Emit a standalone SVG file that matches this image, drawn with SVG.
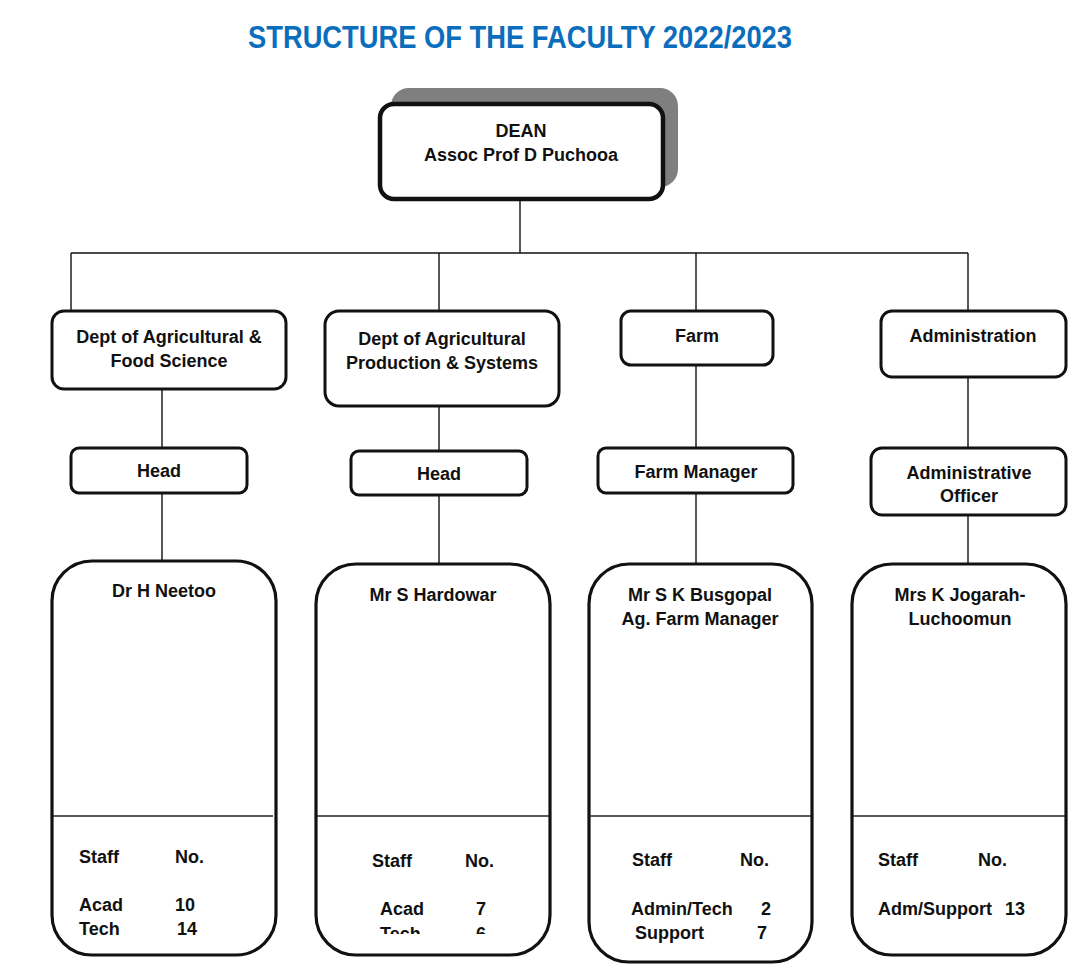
<svg xmlns="http://www.w3.org/2000/svg" width="1075" height="974" viewBox="0 0 1075 974">
<defs>
<style>
.t{font-family:"Liberation Sans",Arial,sans-serif;font-weight:bold;font-size:18px;fill:#111;}
.c{text-anchor:middle;}
.box{fill:#fff;stroke:#111;stroke-width:3;}
.big{fill:#fff;stroke:#111;stroke-width:3.2;}
.ln{stroke:#111;stroke-width:1.4;fill:none;}
.div{stroke:#222;stroke-width:1.5;}
</style>
<clipPath id="clipB"><rect x="316" y="560" width="236" height="374"/></clipPath>
</defs>
<rect width="1075" height="974" fill="#fff"/>
<text x="520" y="48" text-anchor="middle" font-family="'Liberation Sans',Arial,sans-serif" font-weight="bold" font-size="31" fill="#0b6ebc" textLength="544" lengthAdjust="spacingAndGlyphs">STRUCTURE OF THE FACULTY 2022/2023</text>

<g id="connectors">
<path class="ln" d="M520 199V253M71 253H968M71 253V311M439 253V311M696 253V311M968 253V311"/>
<path class="ln" d="M162 389V448M439 406V451M696 365V448M968 377V448"/>
<path class="ln" d="M162 493V561M439 495V564M696 493V564M968 515V564"/>
</g>

<g id="dean">
<rect x="391" y="88" width="287" height="99" rx="18" fill="#7f7f7f"/>
<rect x="380" y="104" width="283" height="95" rx="14" fill="#fff" stroke="#111" stroke-width="4.5"/>
<text class="t c" x="521" y="137">DEAN</text>
<text class="t c" x="521" y="161">Assoc Prof D Puchooa</text>
</g>

<g id="dept-afs">
<rect class="box" x="52" y="311" width="234" height="78" rx="12"/>
<text class="t c" x="169" y="343">Dept of Agricultural &amp;</text>
<text class="t c" x="169" y="367">Food Science</text>
</g>
<g id="dept-aps">
<rect class="box" x="325" y="311" width="234" height="95" rx="14"/>
<text class="t c" x="442" y="345">Dept of Agricultural</text>
<text class="t c" x="442" y="369">Production &amp; Systems</text>
</g>
<g id="farm">
<rect class="box" x="621" y="311" width="152" height="54" rx="10"/>
<text class="t c" x="697" y="342">Farm</text>
</g>
<g id="administration">
<rect class="box" x="881" y="311" width="185" height="66" rx="11"/>
<text class="t c" x="973" y="342">Administration</text>
</g>

<g id="head-afs">
<rect class="box" x="71" y="448" width="176" height="45" rx="8"/>
<text class="t c" x="159" y="477">Head</text>
</g>
<g id="head-aps">
<rect class="box" x="351" y="451" width="176" height="44" rx="8"/>
<text class="t c" x="439" y="480">Head</text>
</g>
<g id="farm-manager">
<rect class="box" x="598" y="448" width="195" height="45" rx="8"/>
<text class="t c" x="696" y="478">Farm Manager</text>
</g>
<g id="admin-officer">
<rect class="box" x="871" y="448" width="195" height="67" rx="11"/>
<text class="t c" x="969" y="479">Administrative</text>
<text class="t c" x="969" y="502">Officer</text>
</g>

<g id="staff-afs">
<rect class="big" x="52" y="561" width="224" height="394" rx="40"/>
<line class="div" x1="53" y1="816" x2="273" y2="816"/>
<text class="t c" x="164" y="597">Dr H Neetoo</text>
<text class="t" x="79" y="863">Staff</text>
<text class="t" x="175" y="863">No.</text>
<text class="t" x="79" y="911">Acad</text>
<text class="t" x="175" y="911">10</text>
<text class="t" x="79" y="935">Tech</text>
<text class="t" x="177" y="935">14</text>
</g>
<g id="staff-aps">
<rect class="big" x="316" y="564" width="234" height="391" rx="40"/>
<line class="div" x1="317" y1="816" x2="549" y2="816"/>
<text class="t c" x="433" y="601">Mr S Hardowar</text>
<text class="t" x="372" y="867">Staff</text>
<text class="t" x="465" y="867">No.</text>
<text class="t" x="380" y="915">Acad</text>
<text class="t" x="476" y="915">7</text>
<g clip-path="url(#clipB)">
<text class="t" x="380" y="940">Tech</text>
<text class="t" x="476" y="940">6</text>
</g>
</g>
<g id="staff-farm">
<rect class="big" x="589" y="564" width="223" height="398" rx="40"/>
<line class="div" x1="590" y1="816" x2="811" y2="816"/>
<text class="t c" x="700" y="601">Mr S K Busgopal</text>
<text class="t c" x="700" y="625">Ag. Farm Manager</text>
<text class="t" x="632" y="866">Staff</text>
<text class="t" x="740" y="866">No.</text>
<text class="t" x="631" y="915">Admin/Tech</text>
<text class="t" x="761" y="915">2</text>
<text class="t" x="635" y="939">Support</text>
<text class="t" x="757" y="939">7</text>
</g>
<g id="staff-admin">
<rect class="big" x="852" y="564" width="214" height="391" rx="40"/>
<line class="div" x1="853" y1="816" x2="1065" y2="816"/>
<text class="t c" x="960" y="601">Mrs K Jogarah-</text>
<text class="t c" x="960" y="625">Luchoomun</text>
<text class="t" x="878" y="866">Staff</text>
<text class="t" x="978" y="866">No.</text>
<text class="t" x="878" y="915">Adm/Support</text>
<text class="t" x="1005" y="915">13</text>
</g>
</svg>
